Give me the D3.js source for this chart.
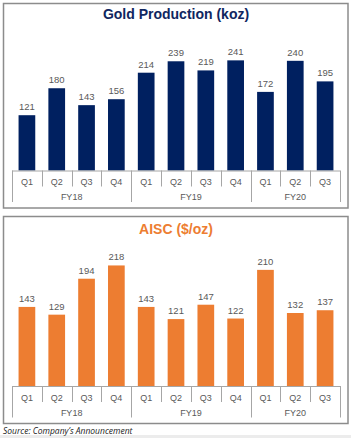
<!DOCTYPE html>
<html>
<head>
<meta charset="utf-8">
<script src="https://cdn.jsdelivr.net/npm/d3@7"></script>
<style>
  body { margin: 0; background: #fff; }
  svg { display: block; }
</style>
</head>
<body>
<div id="canvas"></div>
<script>
"use strict"

let quarters = ["Q1", "Q2", "Q3", "Q4", "Q1", "Q2", "Q3", "Q4", "Q1", "Q2", "Q3"]
let years = ["FY18", "FY19", "FY20"]
let quartersPerYear = [4, 4, 3]
let goldProduction = [121, 180, 143, 156, 214, 239, 219, 241, 172, 240, 195]
let aiscValues = [143, 129, 194, 218, 143, 121, 147, 122, 210, 132, 137]

let svgWidth = 351
let svgHeight = 438

let svg = d3.select("#canvas")
    .append("svg")
    .attr("width", svgWidth)
    .attr("height", svgHeight)

svg.append("rect")
    .attr("width", svgWidth)
    .attr("height", svgHeight)
    .attr("fill", "white")

let xScale = d3.scaleBand()
    .domain(d3.range(quarters.length))
    .range([12, 340])
    .paddingInner(0.44)
    .paddingOuter(0.22)

function drawPanel(panel) {
    let g = svg.append("g")

    // panel frame
    g.append("rect")
        .attr("x", 3.5)
        .attr("y", panel.top)
        .attr("width", 344.5)
        .attr("height", panel.bottom - panel.top)
        .attr("fill", "none")
        .attr("stroke", "#8c8c8c")
        .attr("stroke-width", 1.5)

    g.append("text")
        .attr("x", 176)
        .attr("y", panel.titleY)
        .attr("text-anchor", "middle")
        .attr("font-family", "Liberation Sans, Arial, sans-serif")
        .attr("font-weight", "bold")
        .attr("font-size", 14)
        .attr("fill", panel.titleColor)
        .text(panel.title)

    let yScale = d3.scaleLinear()
        .domain([0, 250])
        .range([panel.axisY, panel.axisY - 250 * panel.pxPerUnit])

    g.selectAll("rect.bar")
        .data(panel.values)
        .enter()
        .append("rect")
        .attr("class", "bar")
        .attr("x", (d, i) => xScale(i))
        .attr("y", d => yScale(d))
        .attr("width", xScale.bandwidth())
        .attr("height", d => yScale(0) - yScale(d))
        .attr("fill", panel.barColor)

    g.selectAll("text.value")
        .data(panel.values)
        .enter()
        .append("text")
        .attr("class", "value")
        .attr("x", (d, i) => xScale(i) + xScale.bandwidth() / 2)
        .attr("y", d => yScale(d) - 5)
        .attr("text-anchor", "middle")
        .attr("font-family", "Liberation Sans, Arial, sans-serif")
        .attr("font-size", 9.5)
        .attr("fill", "#595959")
        .text(d => d)

    // multi-level category axis
    let y0 = panel.axisY
    let step = xScale.step()
    let left = xScale.range()[0]
    let axisColor = "#a6a6a6"

    g.append("line")
        .attr("x1", left)
        .attr("x2", xScale.range()[1])
        .attr("y1", y0 + 0.5)
        .attr("y2", y0 + 0.5)
        .attr("stroke", axisColor)

    let yearEdges = [0]
    quartersPerYear.forEach(n => yearEdges.push(yearEdges[yearEdges.length - 1] + n))

    for (let i = 0; i <= quarters.length; i++) {
        let isYearEdge = yearEdges.includes(i)
        let x = Math.round(left + i * step) + 0.5
        g.append("line")
            .attr("x1", x)
            .attr("x2", x)
            .attr("y1", y0)
            .attr("y2", y0 + (isYearEdge ? 31.5 : 16))
            .attr("stroke", axisColor)
    }

    g.selectAll("text.quarter")
        .data(quarters)
        .enter()
        .append("text")
        .attr("class", "quarter")
        .attr("x", (d, i) => xScale(i) + xScale.bandwidth() / 2)
        .attr("y", y0 + 14.5)
        .attr("text-anchor", "middle")
        .attr("font-family", "Liberation Sans, Arial, sans-serif")
        .attr("font-size", 9)
        .attr("fill", "#595959")
        .text(d => d)

    g.selectAll("text.year")
        .data(years)
        .enter()
        .append("text")
        .attr("class", "year")
        .attr("x", (d, i) => left + (yearEdges[i] + yearEdges[i + 1]) / 2 * step)
        .attr("y", y0 + 29.5)
        .attr("text-anchor", "middle")
        .attr("font-family", "Liberation Sans, Arial, sans-serif")
        .attr("font-size", 9)
        .attr("fill", "#595959")
        .text(d => d)
}

drawPanel({
    top: 3.5,
    bottom: 208,
    title: "Gold Production (koz)",
    titleY: 18.5,
    titleColor: "#0f2660",
    barColor: "#002060",
    values: goldProduction,
    axisY: 170.5,
    pxPerUnit: 0.457
})

drawPanel({
    top: 216.5,
    bottom: 423.5,
    title: "AISC ($/oz)",
    titleY: 233.5,
    titleColor: "#ed7d31",
    barColor: "#ed7d31",
    values: aiscValues,
    axisY: 386,
    pxPerUnit: 0.553
})

/* footer strip and source note */
svg.append("rect")
    .attr("x", 0)
    .attr("y", 435)
    .attr("width", svgWidth)
    .attr("height", 3)
    .attr("fill", "#ececec")

svg.append("text")
    .attr("x", 3)
    .attr("y", 434)
    .attr("font-family", "Open Sans, Liberation Sans, sans-serif")
    .attr("font-style", "italic")
    .attr("font-size", 8.5)
    .attr("fill", "#1a1a1a")
    .text("Source: Company\u2019s Announcement")
</script>
</body>
</html>
